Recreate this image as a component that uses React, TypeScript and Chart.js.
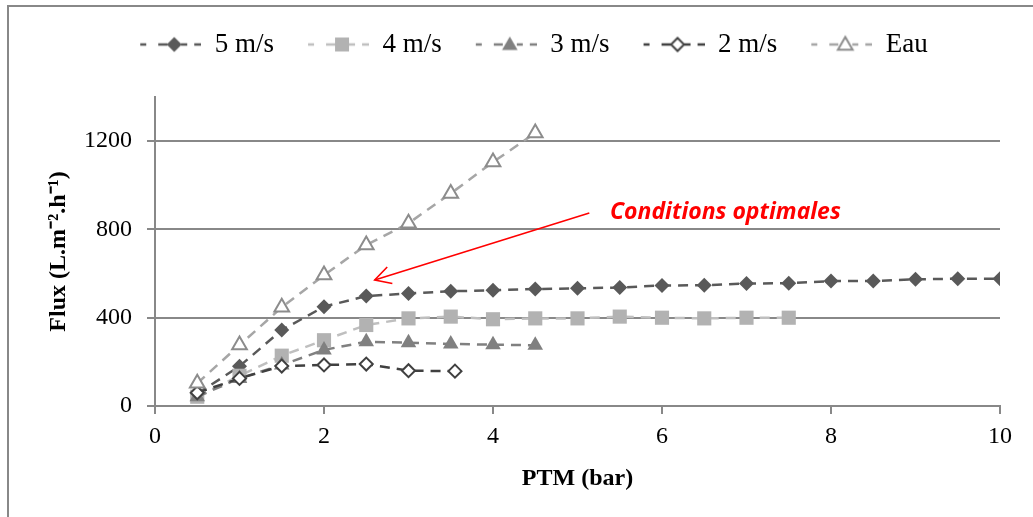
import React, { useEffect, useRef } from 'react';
import { Chart, registerables } from 'chart.js';

Chart.register(...registerables);

const seriesNames = ['5 m/s', '4 m/s', '3 m/s', '2 m/s', 'Eau'];

const ptm5 = [0.5, 1, 1.5, 2, 2.5, 3, 3.5, 4, 4.5, 5, 5.5, 6, 6.5, 7, 7.5, 8, 8.5, 9, 9.5, 10];
const flux5 = [55, 180, 344, 450, 498, 510, 520, 524, 530, 533, 537, 546, 547, 555, 556, 566, 566, 574, 577, 577];

const ptm4 = [0.5, 1, 1.5, 2, 2.5, 3, 3.5, 4, 4.5, 5, 5.5, 6, 6.5, 7, 7.5];
const flux4 = [42, 137, 228, 298, 367, 397, 405, 393, 397, 397, 405, 400, 397, 400, 400];

const ptm3 = [0.5, 1, 1.5, 2, 2.5, 3, 3.5, 4, 4.5];
const flux3 = [42, 125, 186, 254, 291, 287, 281, 278, 275];

const ptm2 = [0.5, 1, 1.5, 2, 2.5, 3, 3.55];
const flux2 = [60, 125, 181, 186, 190, 160, 158];

const ptmEau = [0.5, 1, 1.5, 2, 2.5, 3, 3.5, 4, 4.5];
const fluxEau = [103, 276, 447, 593, 729, 828, 963, 1105, 1237];

const xTicks = [0, 2, 4, 6, 8, 10];
const yTicks = [0, 400, 800, 1200];

const annotationText = 'Conditions optimales';
const arrowStart = [5.14, 874];
const arrowEnd = [2.6, 571];
const textAnchor = [5.385, 847];

const AXIS = '#888888';
const SERIF = '"Liberation Serif", "Times New Roman", serif';

type Kind = 'diamond' | 'square' | 'triangle';

function drawMarker(ctx: CanvasRenderingContext2D, kind: Kind, cx: number, cy: number, r: number) {
  ctx.beginPath();
  if (kind === 'diamond') {
    ctx.moveTo(cx, cy - r);
    ctx.lineTo(cx + r, cy);
    ctx.lineTo(cx, cy + r);
    ctx.lineTo(cx - r, cy);
  } else if (kind === 'square') {
    ctx.rect(cx - r, cy - r, 2 * r, 2 * r);
  } else {
    ctx.moveTo(cx, cy - r);
    ctx.lineTo(cx + r * 0.866, cy + r * 0.5);
    ctx.lineTo(cx - r * 0.866, cy + r * 0.5);
  }
  ctx.closePath();
}

const LEG_OFF = 24;
const LEG_BOX = 85;

function makeLegendImage(kind: Kind, lineColor: string, fill: string, stroke: string, r: number, bw: number) {
  const c = document.createElement('canvas');
  c.width = LEG_BOX;
  c.height = 24;
  const ctx = c.getContext('2d')!;
  ctx.strokeStyle = lineColor;
  ctx.lineWidth = 2.5;
  const segs = [[0, 6], [18, 27], [41, 47], [54, 61]];
  segs.forEach(([a, b]) => {
    ctx.beginPath();
    ctx.moveTo(LEG_OFF + a, 12);
    ctx.lineTo(LEG_OFF + b, 12);
    ctx.stroke();
  });
  drawMarker(ctx, kind, LEG_OFF + 34, kind === 'triangle' ? 13 : 12, r);
  ctx.fillStyle = fill;
  ctx.fill();
  if (bw > 0) {
    ctx.lineWidth = bw;
    ctx.strokeStyle = stroke;
    ctx.stroke();
  }
  return c;
}

const annotationPlugin = {
  id: 'optAnnotation',
  afterDatasetsDraw(chart: any) {
    const { ctx, scales } = chart;
    const x = scales.x;
    const y = scales.y;
    const sx = x.getPixelForValue(arrowStart[0]);
    const sy = y.getPixelForValue(arrowStart[1]);
    const ex = x.getPixelForValue(arrowEnd[0]);
    const ey = y.getPixelForValue(arrowEnd[1]);
    ctx.save();
    ctx.strokeStyle = '#ff0000';
    ctx.lineWidth = 1.6;
    ctx.beginPath();
    ctx.moveTo(sx, sy);
    ctx.lineTo(ex, ey);
    ctx.stroke();
    const ang = Math.atan2(sy - ey, sx - ex);
    const len = 18;
    const spread = 0.5;
    ctx.beginPath();
    ctx.moveTo(ex + len * Math.cos(ang - spread), ey + len * Math.sin(ang - spread));
    ctx.lineTo(ex, ey);
    ctx.lineTo(ex + len * Math.cos(ang + spread), ey + len * Math.sin(ang + spread));
    ctx.stroke();
    ctx.fillStyle = '#ff0000';
    ctx.font = 'italic bold 23px "Open Sans"';
    ctx.textAlign = 'left';
    ctx.textBaseline = 'alphabetic';
    ctx.fillText(annotationText, x.getPixelForValue(textAnchor[0]), y.getPixelForValue(textAnchor[1]));
    ctx.restore();
  },
};

export default function App() {
  const ref = useRef<HTMLCanvasElement | null>(null);

  useEffect(() => {
    if (!ref.current) return;
    const styles = [
      { kind: 'diamond' as Kind, line: '#595959', fill: '#595959', stroke: '#595959', r: 7.5, bw: 0, rad: 7.5, ps: 'rectRot' },
      { kind: 'square' as Kind, line: '#bfbfbf', fill: '#b2b2b2', stroke: '#b2b2b2', r: 7, bw: 0, rad: 10, ps: 'rect' },
      { kind: 'triangle' as Kind, line: '#808080', fill: '#808080', stroke: '#808080', r: 9, bw: 0, rad: 9, ps: 'triangle' },
      { kind: 'diamond' as Kind, line: '#404040', fill: '#ffffff', stroke: '#404040', r: 6.5, bw: 2, rad: 6.5, ps: 'rectRot' },
      { kind: 'triangle' as Kind, line: '#a6a6a6', fill: '#ffffff', stroke: '#8c8c8c', r: 8.5, bw: 2, rad: 8.5, ps: 'triangle' },
    ];
    const xs = [ptm5, ptm4, ptm3, ptm2, ptmEau];
    const ys = [flux5, flux4, flux3, flux2, fluxEau];
    const images = styles.map((s) => makeLegendImage(s.kind, s.line, s.fill, s.stroke, s.r, s.bw));

    const datasets = seriesNames.map((name, i) => ({
      label: name,
      data: xs[i].map((v, j) => ({ x: v, y: ys[i][j] })),
      borderColor: styles[i].line,
      borderWidth: 2.5,
      borderDash: [10, 7],
      pointStyle: styles[i].ps,
      pointRadius: styles[i].rad,
      pointBackgroundColor: styles[i].fill,
      pointBorderColor: styles[i].stroke,
      pointBorderWidth: styles[i].bw || 0.01,
      tension: 0,
      fill: false,
      order: 5 - i,
    }));

    const L = 44;

    const chart = new Chart(ref.current, {
      type: 'line',
      data: { datasets },
      options: {
        animation: false,
        responsive: false,
        devicePixelRatio: 1,
        layout: { padding: { left: L, right: 33, top: 21, bottom: 0 } },
        plugins: {
          tooltip: { enabled: false },
          subtitle: {
            display: true,
            text: '',
            weight: 500,
            padding: { top: 0, bottom: 28 },
            font: { size: 1, lineHeight: 1 },
          } as any,
          legend: {
            position: 'top',
            labels: {
              usePointStyle: true,
              pointStyleWidth: LEG_BOX,
              padding: 10,
              color: '#000000',
              font: { family: SERIF, size: 27 },
              generateLabels: () =>
                seriesNames.map((n, i) => ({
                  text: n,
                  pointStyle: images[i] as any,
                  fillStyle: 'rgba(0,0,0,0)',
                  strokeStyle: 'rgba(0,0,0,0)',
                  lineWidth: 0,
                  hidden: false,
                  datasetIndex: i,
                  fontColor: '#000000',
                })),
            },
          },
        },
        scales: {
          x: {
            type: 'linear',
            min: 0,
            max: 10,
            afterBuildTicks: (scale: any) => {
              scale.ticks = xTicks.map((v) => ({ value: v }));
            },
            afterFit: (scale: any) => {
              scale.height = 111;
            },
            grid: { drawOnChartArea: false, drawTicks: true, tickLength: 8, color: AXIS, lineWidth: 2 },
            border: { display: true, color: AXIS, width: 2 },
            ticks: {
              color: '#000000',
              padding: 8,
              maxRotation: 0,
              callback: (v: any) => String(v),
              font: { family: SERIF, size: 24 },
            },
            title: {
              display: true,
              text: 'PTM (bar)',
              color: '#000000',
              padding: { top: 0, bottom: 24 },
              font: { family: SERIF, size: 24, weight: 'bold' },
            },
          },
          y: {
            type: 'linear',
            min: 0,
            max: 1400,
            afterBuildTicks: (scale: any) => {
              scale.ticks = yTicks.map((v) => ({ value: v }));
            },
            afterFit: (scale: any) => {
              scale.width = 155 - L;
            },
            grid: { drawOnChartArea: true, drawTicks: true, tickLength: 8, color: AXIS, lineWidth: 2 },
            border: { display: true, color: AXIS, width: 2 },
            ticks: {
              color: '#000000',
              padding: 15,
              callback: (v: any) => String(v),
              font: { family: SERIF, size: 24 },
            },
            title: {
              display: true,
              text: 'Flux (L.m⁻².h⁻¹)',
              color: '#000000',
              padding: { top: 0, bottom: 0 },
              font: { family: SERIF, size: 24, weight: 'bold' },
            },
          },
        },
      },
      plugins: [annotationPlugin],
    });
    return () => chart.destroy();
  }, []);

  return (
    <div style={{ position: 'absolute', left: 0, top: 0, width: 1033, height: 517, overflow: 'hidden', background: '#ffffff' }}>
      <div
        style={{
          position: 'absolute',
          left: 7,
          top: 5,
          right: -10,
          bottom: -10,
          borderLeft: `2px solid ${AXIS}`,
          borderTop: `2px solid ${AXIS}`,
        }}
      />
      <canvas ref={ref} width={1033} height={517} style={{ position: 'absolute', left: 0, top: 0, width: 1033, height: 517 }} />
    </div>
  );
}
